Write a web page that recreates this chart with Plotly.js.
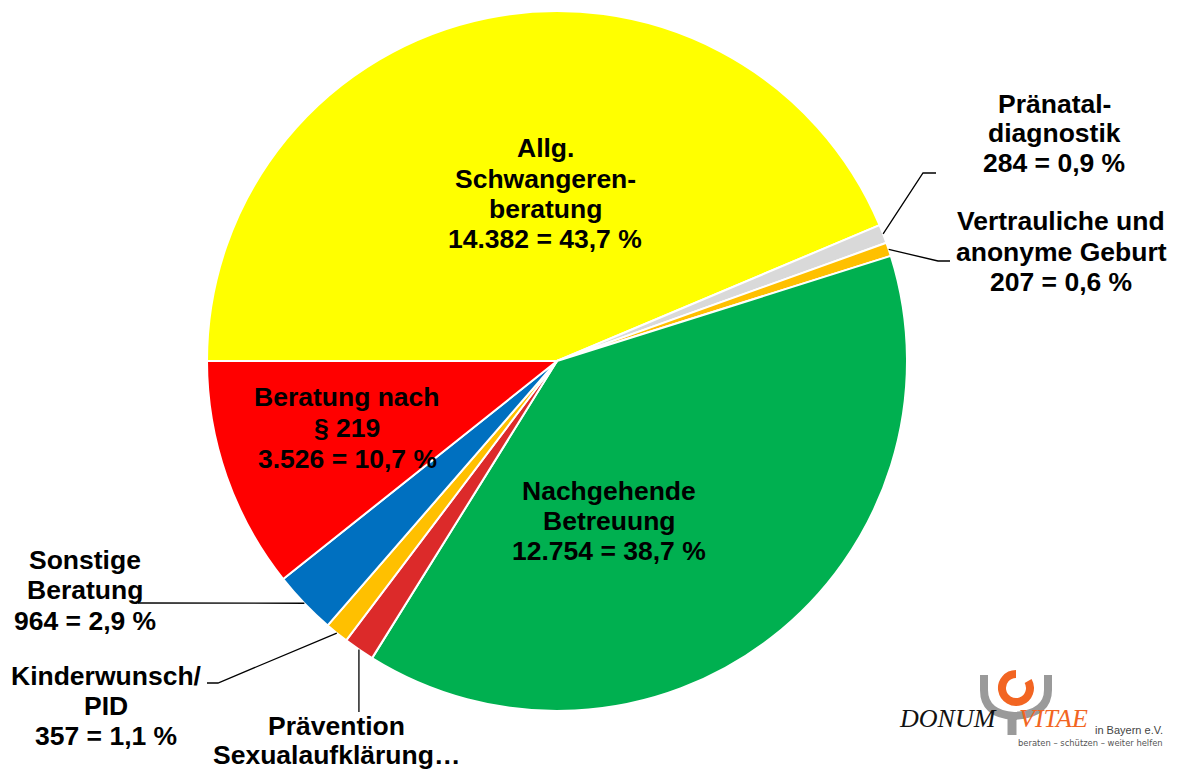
<!DOCTYPE html>
<html>
<head>
<meta charset="utf-8">
<script src="https://cdn.plot.ly/plotly-3.0.1.min.js"></script>
<style>html,body{margin:0;padding:0;background:#fff;}#chart{width:1181px;height:770px;}</style>
</head>
<body>
<div id="chart"></div>
<script>
// ---- data ----
const categories = ['Allg. Schwangerenberatung', 'Pränataldiagnostik', 'Vertrauliche und anonyme Geburt',
  'Nachgehende Betreuung', 'Prävention Sexualaufklärung', 'Kinderwunsch/PID', 'Sonstige Beratung', 'Beratung nach § 219'];
const values = [14382, 284, 207, 12754, 470, 357, 964, 3526];
const labelNames = [['Allg.', 'Schwangeren-', 'beratung'], ['Pränatal-', 'diagnostik'], ['Vertrauliche und', 'anonyme Geburt'],
  ['Nachgehende', 'Betreuung'], ['Prävention', 'Sexualaufklärung…'], ['Kinderwunsch/', 'PID'], ['Sonstige', 'Beratung'],
  ['Beratung nach', '§ 219']];
const showValue = [true, true, true, true, false, true, true, true];
const colors = ['#FFFF00', '#D9D9D9', '#FFC000', '#00B050', '#DC2A2A', '#FFC000', '#0070C0', '#FF0000'];

// ---- layout helpers ----
const W = 1181, H = 770;
const CX = 557, CY = 361, R = 350;
const px = x => x / W;
const py = y => 1 - y / H;
const total = values.reduce((a, b) => a + b, 0);
const fmtNum = v => v.toLocaleString('de-DE');
const fmtPct = v => (Math.round(v / total * 1000) / 10).toFixed(1).replace('.', ',');

// label placement: x centre and y centre of each text line (pixels)
const labelX = [545, 1054, 1061, 609, 336, 106, 85, 347];
const labelY = [[148, 178.5, 209, 239.5], [104, 133, 163], [221, 252, 282], [491, 521, 551],
  [726, 755], [676, 706, 736], [560, 590, 621], [397, 428, 459]];
// leader lines: null = none, otherwise points after the slice tip
const leaders = [null, [[923, 173], [936, 173]], [[938, 261], [950, 261]], null, [['tipx', 712]],
  [[218, 683], [207, 683]], [[138, 603]], null];

const annotations = [];
const shapes = [];
let cum = 0;
values.forEach((v, i) => {
  const mid = (cum + v / 2) / total * 2 * Math.PI;
  cum += v;
  const tx = CX - R * Math.cos(mid), ty = CY - R * Math.sin(mid);
  const lines = labelNames[i].slice();
  if (showValue[i]) lines.push(fmtNum(v) + ' = ' + fmtPct(v) + ' %');
  lines.forEach((t, k) => {
    annotations.push({
      xref: 'paper', yref: 'paper', x: px(labelX[i]), y: py(labelY[i][k]),
      xanchor: 'center', yanchor: 'middle', showarrow: false, borderpad: 0,
      text: '<b>' + t + '</b>',
      font: {family: 'Liberation Sans, Arial, sans-serif', size: 26.5, color: '#000'}
    });
  });
  if (leaders[i]) {
    let d = 'M ' + px(tx) + ',' + py(ty);
    leaders[i].forEach(p => {
      const x = p[0] === 'tipx' ? tx : p[0];
      d += ' L ' + px(x) + ',' + py(p[1]);
    });
    shapes.push({type: 'path', xref: 'paper', yref: 'paper', path: d, line: {color: '#000', width: 1.3}});
  }
});

// ---- logo ----
const logoSvg = '<svg xmlns="http://www.w3.org/2000/svg" width="90" height="75" viewBox="0 0 90 75">' +
  '<path d="M14 10 L14 25 Q14 49 44 51 Q78 49 78 25 L78 10" fill="none" stroke="#9A9A9A" stroke-width="8"/>' +
  '<path d="M42 48 L42 70" fill="none" stroke="#9A9A9A" stroke-width="9"/>' +
  '<path d="M58.1 16 A14 14 0 1 1 46 9" fill="none" stroke="#F26522" stroke-width="8"/>' +
  '</svg>';
const images = [{
  source: 'data:image/svg+xml;charset=utf-8,' + encodeURIComponent(logoSvg),
  xref: 'paper', yref: 'paper', x: px(970), y: py(665), sizex: 90 / W, sizey: 75 / H,
  xanchor: 'left', yanchor: 'top', sizing: 'stretch', layer: 'below'
}];
annotations.push(
  {xref: 'paper', yref: 'paper', x: px(897), y: py(735), xanchor: 'left', yanchor: 'bottom', showarrow: false,
   text: '<i>DONUM</i>', font: {family: 'Liberation Serif, Times New Roman, serif', size: 26, color: '#111'}},
  {xref: 'paper', yref: 'paper', x: px(1017), y: py(735), xanchor: 'left', yanchor: 'bottom', showarrow: false,
   text: '<i>VITAE</i>', font: {family: 'Liberation Serif, Times New Roman, serif', size: 26, color: '#F26522'}},
  {xref: 'paper', yref: 'paper', x: px(1093), y: py(730), xanchor: 'left', yanchor: 'middle', showarrow: false,
   text: 'in Bayern e.V.', font: {family: 'Liberation Sans, Arial, sans-serif', size: 11, color: '#444'}},
  {xref: 'paper', yref: 'paper', x: px(1016), y: py(743), xanchor: 'left', yanchor: 'middle', showarrow: false,
   text: 'beraten – schützen – weiter helfen', font: {family: 'DejaVu Sans, sans-serif', size: 8.4, color: '#555'}}
);

const trace = {
  type: 'pie',
  labels: categories,
  values: values,
  sort: false,
  direction: 'clockwise',
  rotation: -90,
  textinfo: 'none',
  hoverinfo: 'skip',
  marker: {colors: colors, line: {color: '#FFFFFF', width: 2}},
  domain: {x: [px(CX - R), px(CX + R)], y: [py(CY + R), py(CY - R)]}
};

Plotly.newPlot('chart', [trace], {
  width: W, height: H,
  margin: {l: 0, r: 0, t: 0, b: 0},
  showlegend: false,
  paper_bgcolor: '#fff',
  annotations: annotations,
  shapes: shapes,
  images: images
}, {staticPlot: true, displayModeBar: false});
</script>
</body>
</html>
